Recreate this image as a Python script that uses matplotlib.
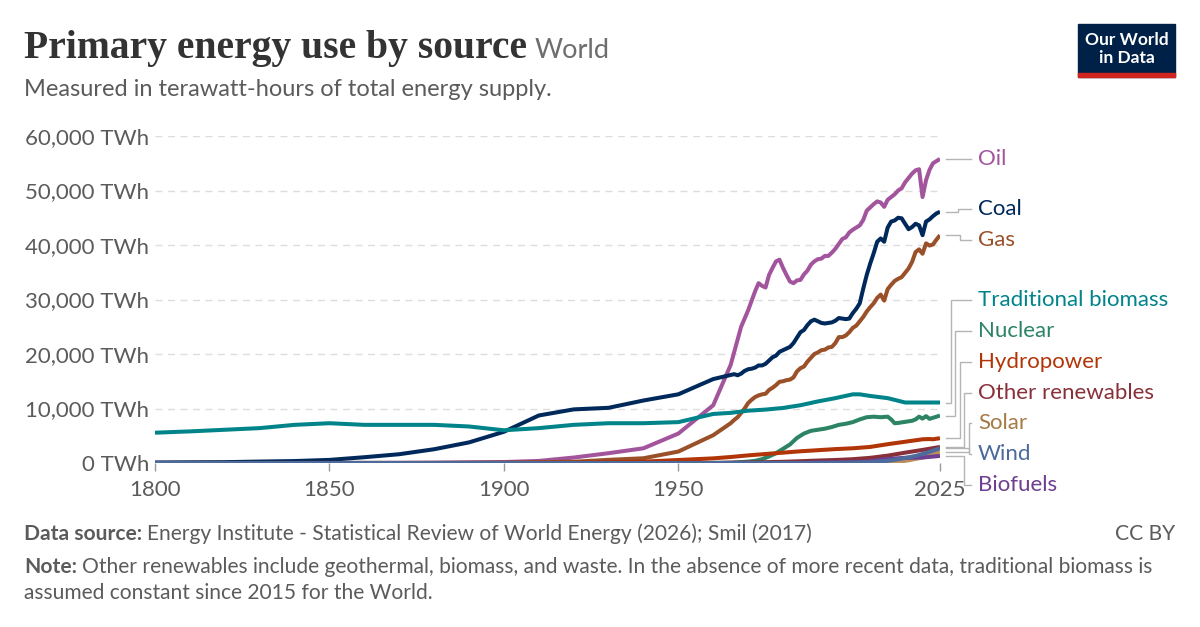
import matplotlib.pyplot as plt
from matplotlib.lines import Line2D
from matplotlib.patches import Rectangle

# ---- data (TWh) ----
oil_years = [1800, 1860, 1870, 1880, 1890, 1900, 1910, 1920, 1930, 1940, 1950, 1955, 1960,
             1965, 1968, 1970, 1972, 1973, 1974, 1975, 1976, 1977, 1978, 1979, 1980,
             1981, 1982, 1983, 1984, 1985, 1986, 1987, 1988, 1989, 1990, 1991, 1992,
             1993, 1994, 1995, 1996, 1997, 1998, 1999, 2000, 2001, 2002, 2003, 2004,
             2005, 2006, 2007, 2008, 2009, 2010, 2011, 2012, 2013, 2014, 2015, 2016,
             2017, 2018, 2019, 2020, 2021, 2022, 2023, 2024, 2025]
oil = [0, 0, 10, 50, 120, 180, 380, 1000, 1800, 2700, 5400, 8000, 10600,
       18000, 25000, 28000, 31500, 33000, 32500, 32200, 34500, 35800, 37000, 37300, 35800,
       34500, 33300, 33000, 33500, 33600, 34600, 35300, 36400, 37000, 37400, 37500, 38000,
       38000, 38600, 39300, 40200, 41100, 41400, 42300, 42800, 43200, 43600, 44600, 46300,
       46900, 47500, 48000, 47800, 47000, 48300, 48800, 49300, 50000, 50400, 51500, 52300,
       53100, 53700, 53900, 48800, 51900, 53800, 55000, 55400, 55800]

coal_years = [1800, 1810, 1820, 1830, 1840, 1850, 1860, 1870, 1880, 1890, 1900, 1910, 1920,
              1930, 1940, 1950, 1960, 1965, 1966, 1967, 1968, 1969, 1970, 1971, 1972,
              1973, 1974, 1975, 1976, 1977, 1978, 1979, 1980, 1981, 1982, 1983, 1984,
              1985, 1986, 1987, 1988, 1989, 1990, 1991, 1992, 1993, 1994, 1995, 1996,
              1997, 1998, 1999, 2000, 2001, 2002, 2003, 2004, 2005, 2006, 2007, 2008,
              2009, 2010, 2011, 2012, 2013, 2014, 2015, 2016, 2017, 2018, 2019, 2020,
              2021, 2022, 2023, 2024, 2025]
coal = [97, 128, 153, 264, 356, 569, 1060, 1612, 2525, 3780, 5728, 8718, 9838,
        10125, 11467, 12604, 15400, 16150, 16300, 16100, 16400, 16900, 17200, 17300, 17500,
        17900, 17900, 18200, 18800, 19400, 19700, 20400, 20700, 21000, 21300, 22000, 23000,
        24000, 24400, 25300, 26000, 26300, 26000, 25700, 25600, 25700, 25800, 26100, 26600,
        26500, 26400, 26500, 27500, 28300, 29300, 32000, 34500, 36600, 38500, 40600, 41200,
        40600, 43200, 44300, 44500, 45000, 44900, 43900, 42900, 43300, 43900, 43600, 41800,
        44300, 44700, 45300, 45800, 46100]

gas_years = [1800, 1880, 1890, 1900, 1910, 1920, 1930, 1940, 1950, 1960, 1965, 1966, 1967,
             1968, 1969, 1970, 1971, 1972, 1973, 1974, 1975, 1976, 1977, 1978, 1979,
             1980, 1981, 1982, 1983, 1984, 1985, 1986, 1987, 1988, 1989, 1990, 1991,
             1992, 1993, 1994, 1995, 1996, 1997, 1998, 1999, 2000, 2001, 2002, 2003,
             2004, 2005, 2006, 2007, 2008, 2009, 2010, 2011, 2012, 2013, 2014, 2015,
             2016, 2017, 2018, 2019, 2020, 2021, 2022, 2023, 2024, 2025]
gas = [0, 10, 30, 64, 160, 230, 580, 870, 2100, 5100, 7300, 7900, 8400,
       9200, 10000, 11000, 11600, 12100, 12400, 12600, 12700, 13400, 13800, 14300, 14900,
       15000, 15200, 15300, 15700, 16800, 17400, 17700, 18600, 19300, 20000, 20300, 20700,
       20800, 21200, 21300, 22000, 23100, 23100, 23400, 24000, 24800, 25200, 26000, 26800,
       27800, 28600, 29300, 30300, 30900, 29800, 31900, 32700, 33400, 33800, 34100, 34900,
       35700, 36900, 38700, 39200, 38400, 40300, 39900, 40100, 41000, 41800]

trad_years = [1800, 1810, 1820, 1830, 1840, 1850, 1860, 1870, 1880, 1890, 1900, 1910, 1920,
              1930, 1940, 1950, 1960, 1965, 1970, 1975, 1980, 1985, 1990, 1995, 2000,
              2002, 2005, 2010, 2015, 2020, 2025]
trad = [5560, 5800, 6100, 6400, 7000, 7300, 7000, 7000, 7000, 6700, 6000, 6400, 7000,
        7300, 7300, 7500, 9000, 9200, 9600, 9800, 10100, 10600, 11300, 11900, 12600,
        12600, 12300, 11900, 11100, 11100, 11100]

nuclear_years = [1800, 1960, 1965, 1970, 1972, 1974, 1976, 1978, 1980, 1982, 1984, 1986,
                 1988, 1990, 1992, 1994, 1996, 1998, 2000, 2002, 2004, 2006, 2008, 2010,
                 2011, 2012, 2013, 2014, 2015, 2016, 2017, 2018, 2019, 2020, 2021, 2022,
                 2023, 2024, 2025]
nuclear = [0, 0, 50, 250, 400, 700, 1200, 1800, 2600, 3400, 4600, 5400,
           5900, 6100, 6300, 6600, 7000, 7200, 7500, 8000, 8400, 8500, 8400, 8500,
           8000, 7300, 7350, 7450, 7550, 7650, 7750, 8000, 8500, 8150, 8600, 8100,
           8300, 8500, 8700]

hydro_years = [1800, 1900, 1910, 1920, 1930, 1940, 1950, 1960, 1965, 1970, 1975, 1980, 1985,
               1990, 1995, 2000, 2005, 2010, 2015, 2020, 2022, 2023, 2025]
hydro = [0, 20, 40, 80, 150, 250, 550, 850, 1100, 1400, 1650, 1900, 2150,
         2350, 2550, 2700, 2950, 3450, 3900, 4350, 4400, 4350, 4550]

other_years = [1800, 1960, 1965, 1970, 1975, 1980, 1985, 1990, 1995, 2000, 2005, 2010, 2015,
               2020, 2025]
other = [0, 0, 60, 100, 150, 220, 330, 450, 550, 700, 950, 1350, 1900, 2400, 2950]

solar_years = [1800, 2005, 2010, 2012, 2014, 2016, 2018, 2020, 2022, 2024, 2025]
solar = [0, 0, 80, 200, 300, 500, 750, 1000, 1400, 1900, 2100]

wind_years = [1800, 1990, 1995, 2000, 2005, 2008, 2010, 2012, 2014, 2016, 2018, 2020,
              2022, 2025]
wind = [0, 0, 20, 80, 150, 300, 400, 600, 800, 1050, 1300, 1650, 2050, 2700]

bio_years = [1800, 1985, 1990, 1995, 2000, 2005, 2008, 2010, 2015, 2020, 2025]
bio = [0, 0, 100, 120, 130, 300, 600, 750, 950, 1000, 1300]

names = ["Oil", "Coal", "Gas", "Traditional biomass", "Nuclear", "Hydropower",
         "Other renewables", "Solar", "Wind", "Biofuels"]
series = [(oil_years, oil), (coal_years, coal), (gas_years, gas), (trad_years, trad),
          (nuclear_years, nuclear), (hydro_years, hydro), (other_years, other),
          (solar_years, solar), (wind_years, wind), (bio_years, bio)]
colors = ["#A2559C", "#00295B", "#9A5129", "#00848A", "#2C8465", "#B13507",
          "#883039", "#BC8E5A", "#4C6A9C", "#6D3E91"]
text_colors = ["#A2559C", "#00295B", "#9A5129", "#00848A", "#2C8465", "#B13507",
               "#883039", "#A57A45", "#4C6A9C", "#6D3E91"]
zorders = [3, 4, 5, 6, 7, 8, 9, 10, 12, 11]

xticks = [1800, 1850, 1900, 1950, 2025]
yticks = [0, 10000, 20000, 30000, 40000, 50000, 60000]

# label positions (pixels from top) and connector elbow x (pixels)
label_y = [159, 209, 240, 300, 331, 362, 393, 423, 454, 485]
elbow_x = [958, 958, 960, 951, 955, 960, 964, 969, 969, 964]

W, H = 1200, 627
grey = "#5b5b5b"
plt.rcParams["font.family"] = ["Lato", "DejaVu Sans"]

fig = plt.figure(figsize=(W / 100, H / 100), dpi=100)
ax = fig.add_axes([155 / W, 1 - 463 / H, 785 / W, 327 / H])

for (yrs, vals), c, z in zip(series, colors, zorders):
    ax.plot(yrs, vals, color=c, lw=2.9, zorder=z, solid_capstyle="butt",
            solid_joinstyle="round")

ax.set_xlim(1800, 2025)
ax.set_ylim(0, 60000)
ax.set_yticks(yticks)
ax.set_yticklabels([f"{v:,} TWh" for v in yticks])
ax.set_xticks(xticks)
ax.set_xticklabels([str(v) for v in xticks])
for v in yticks[1:]:
    ax.axhline(v, color="#dddddd", lw=1, ls=(0, (5, 4)), zorder=1)
for s in ax.spines.values():
    s.set_visible(False)
ax.tick_params(axis="y", length=0, pad=4, labelsize=16, labelcolor=grey)
ax.tick_params(axis="x", length=6, width=1, color="#999999", pad=6,
               labelsize=16, labelcolor=grey)
ax.patch.set_alpha(0)

# line-end labels with connectors
fig.canvas.draw()
for name, (yrs, vals), c, ly, ex in zip(names, series, text_colors, label_y, elbow_x):
    _, yend = ax.transData.transform((yrs[-1], vals[-1]))
    ly_d = H - ly
    x0 = 946
    if abs(yend - ly_d) < 1.5:
        xs, ys = [x0, 971], [ly_d, ly_d]
    else:
        xs, ys = [x0, ex, ex, 971], [yend, yend, ly_d, ly_d]
    fig.add_artist(Line2D(xs, ys, transform=None, color="#b5b5b5", lw=1))
    fig.text(978 / W, ly_d / H, name, color=c, fontsize=16, va="center", ha="left")

# header
r = fig.canvas.get_renderer()
t = fig.text(24 / W, 1 - 58 / H, "Primary energy use by source", fontsize=28.5,
             family=["Liberation Serif", "DejaVu Serif"], weight="bold", color="#333333",
             va="baseline")
bb = t.get_window_extent(r)
fig.text((bb.x1 + 8) / W, 1 - 58 / H, "World", fontsize=19.5, color="#6e6e6e",
         va="baseline")
fig.text(24 / W, 1 - 96 / H, "Measured in terawatt-hours of total energy supply.",
         fontsize=17, color=grey, va="baseline")

# logo
fig.add_artist(Rectangle((1078, H - 77), 97, 53, transform=None, color="#002147"))
fig.add_artist(Rectangle((1078, H - 77), 97, 4, transform=None, color="#ce261e"))
fig.text(1126.5 / W, 1 - 40 / H, "Our World", color="white", fontsize=12.5,
         weight="bold", ha="center", va="center")
fig.text(1126.5 / W, 1 - 58 / H, "in Data", color="white", fontsize=12.5,
         weight="bold", ha="center", va="center")

# footer
fs = 15.1
t1 = fig.text(24 / W, 1 - 540 / H, "Data source:", fontsize=fs, weight="bold",
              color=grey, va="baseline")
b1 = t1.get_window_extent(r)
fig.text((b1.x1 + 5) / W, 1 - 540 / H,
         "Energy Institute - Statistical Review of World Energy (2026); Smil (2017)",
         fontsize=fs, color=grey, va="baseline")
fig.text(1175 / W, 1 - 540 / H, "CC BY", fontsize=fs, color=grey, va="baseline",
         ha="right")
t2 = fig.text(24 / W, 1 - 573 / H, "Note:", fontsize=fs, weight="bold",
              color=grey, va="baseline")
b2 = t2.get_window_extent(r)
fig.text((b2.x1 + 5) / W, 1 - 573 / H,
         "Other renewables include geothermal, biomass, and waste. In the absence of "
         "more recent data, traditional biomass is",
         fontsize=fs, color=grey, va="baseline")
fig.text(24 / W, 1 - 599 / H, "assumed constant since 2015 for the World.",
         fontsize=fs, color=grey, va="baseline")

fig.savefig("out.png", dpi=100)
